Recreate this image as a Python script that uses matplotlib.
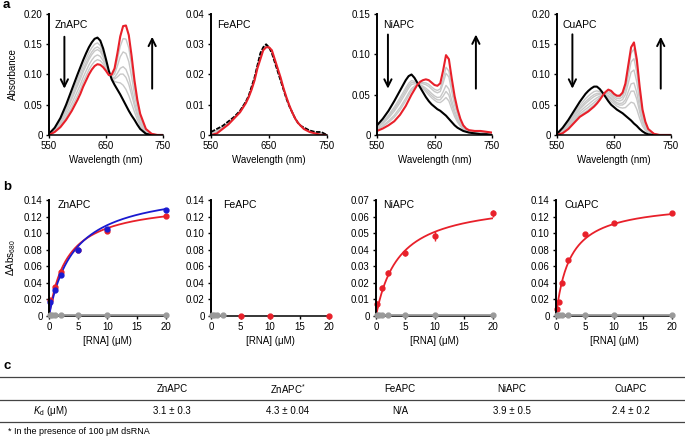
import numpy as np
import matplotlib
matplotlib.use('Agg')
import matplotlib.pyplot as plt
from matplotlib.lines import Line2D

plt.rcParams['font.family'] = ['Liberation Sans', 'DejaVu Sans']
plt.rcParams['mathtext.fontset'] = 'custom'
plt.rcParams['mathtext.rm'] = 'Liberation Sans'
plt.rcParams['mathtext.it'] = 'Liberation Sans:italic'

RED = '#e8202a'
BLUE = '#1a1ad0'
GREY = '#c8c8c8'
DOTGREY = '#9a9a9a'

# ---- panel a: spectra (nm, absorbance) ----
wl = [550, 560, 570, 580, 590, 600, 605, 610, 615, 620, 625, 630, 635, 640, 645, 650,
      655, 660, 665, 670, 675, 680, 685, 690, 695, 700, 705, 710, 720, 730, 740, 750]

zn_black = [.002, .012, .028, .050, .075, .100, .112, .124, .135, .145, .153, .159, .161, .156, .143, .125,
            .106, .092, .083, .075, .067, .058, .049, .040, .032, .025, .017, .010, .002, 0, 0, 0]
zn_red = [0, .005, .013, .025, .040, .058, .068, .080, .090, .100, .108, .114, .117, .116, .112, .106,
          .099, .100, .110, .135, .163, .180, .181, .165, .130, .090, .058, .035, .010, .002, 0, 0]
zn_steps = [0.2, 0.35, 0.45, 0.65, 0.83]

fe_black = [.001, .002, .003, .0045, .006, .008, .0095, .011, .013, .016, .019, .023, .027, .029, .030, .029,
            .027, .024, .021, .018, .015, .012, .0095, .0075, .0055, .004, .003, .0025, .0015, .001, .001, 0]
fe_red = [0, .0005, .002, .0035, .0055, .0075, .009, .0105, .0125, .015, .018, .022, .025, .028, .029, .029,
          .028, .025, .022, .019, .0155, .0125, .0098, .0075, .0055, .004, .003, .002, .001, .0005, 0, 0]
fe_steps = [0.3, 0.6]

ni_black = [.012, .020, .030, .042, .055, .068, .073, .075, .071, .065, .059, .053, .047, .042, .038, .035,
            .032, .030, .027, .024, .020, .016, .012, .009, .007, .005, .004, .003, .002, .001, .001, 0]
ni_red = [.005, .008, .012, .017, .025, .036, .043, .050, .056, .062, .066, .068, .069, .068, .065, .062,
          .061, .064, .080, .099, .094, .070, .048, .032, .020, .012, .008, .006, .005, .005, .004, .003]
ni_steps = [0.3, 0.4, 0.5, 0.7, 0.8]

cu_black = [.002, .012, .025, .040, .055, .068, .073, .077, .080, .080, .076, .070, .063, .056, .050, .046,
            .042, .039, .036, .032, .028, .024, .019, .015, .010, .006, .003, .001, 0, 0, 0, 0]
cu_red = [0, .003, .010, .020, .030, .036, .039, .043, .047, .052, .058, .065, .071, .075, .073, .068,
          .065, .065, .070, .085, .115, .145, .153, .125, .080, .042, .022, .010, .002, 0, 0, 0]
cu_steps = [0.25, 0.4, 0.5, 0.66, 0.8, 0.92]

# ---- panel b: titrations ([RNA] uM, dAbs680) ----
zn_conc = [0.25, 1, 2, 5, 10, 20]
zn_resp = [0.019, 0.035, 0.053, 0.080, 0.102, 0.121]
zn_ds_resp = [0.017, 0.031, 0.050, 0.080, 0.105, 0.128]
ni_conc = [0.25, 1, 2, 5, 10, 20]
ni_resp = [0.007, 0.017, 0.026, 0.038, 0.048, 0.062]
ni_err = [0.002, 0.002, 0.0015, 0.002, 0.003, 0.002]
cu_conc = [0.25, 0.5, 1, 2, 5, 10, 20]
cu_resp = [0.008, 0.017, 0.040, 0.068, 0.099, 0.112, 0.124]
fe_conc = [5, 10, 20]
fe_resp = [0, 0, 0]
ctrl_conc = [0.25, 0.5, 1, 2, 5, 10, 20]
fe_ctrl_conc = [0.25, 0.5, 1, 2]

# fitted binding curves (Kd from table, plateau)
kd = {'Zn': 3.1, 'Zn*': 4.3, 'Ni': 3.9, 'Cu': 2.4}
bmax = {'Zn': 0.139, 'Zn*': 0.157, 'Ni': 0.0705, 'Cu': 0.1378}

# ---- panel c table ----
col_names = ['ZnAPC', 'ZnAPC$^{*}$', 'FeAPC', 'NiAPC', 'CuAPC']
kd_text = ['3.1 ± 0.3', '4.3 ± 0.04', 'N/A', '3.9 ± 0.5', '2.4 ± 0.2']

W, H = 685, 436
fig = plt.figure(figsize=(6.85, 4.36), dpi=100)


def px_axes(left, right, top, bottom):
    return fig.add_axes([left / W, 1 - bottom / H, (right - left) / W, (bottom - top) / H])


def style(ax):
    ax.spines['top'].set_visible(False)
    ax.spines['right'].set_visible(False)
    ax.spines['left'].set_linewidth(1.4)
    ax.spines['bottom'].set_linewidth(1.1)
    ax.tick_params(direction='out', length=2.5, width=1, labelsize=7, pad=2)


def fmt(v):
    return '0' if v == 0 else f'{v:.2f}'


a_specs = [
    ('ZnAPC', zn_black, zn_red, zn_steps, 0.20, 0.05, (49, 163), (577, 0.167, 0.072), (731, 0.072, 0.167)),
    ('FeAPC', fe_black, fe_red, fe_steps, 0.04, 0.01, (211, 327), None, None),
    ('NiAPC', ni_black, ni_red, ni_steps, 0.15, 0.05, (377, 492), (569, 0.128, 0.054), (722, 0.054, 0.128)),
    ('CuAPC', cu_black, cu_red, cu_steps, 0.20, 0.05, (557, 671), (577, 0.171, 0.072), (732, 0.072, 0.167)),
]

wl_arr = np.array(wl)
for i, (name, blk, red, steps, ytop, ystep, (l, r), down, up) in enumerate(a_specs):
    ax = px_axes(l, r, 14, 135)
    style(ax)
    b = np.array(blk)
    rd = np.array(red)
    for f in steps:
        ax.plot(wl_arr, b + f * (rd - b), color=GREY, lw=1.0)
    if name == 'FeAPC':
        ax.plot(wl_arr, b, color='k', lw=1.3, ls=(0, (2.5, 0.8)))
    else:
        ax.plot(wl_arr, b, color='k', lw=1.5)
    ax.plot(wl_arr, rd, color=RED, lw=1.5)
    ax.set_xlim(550, 750)
    ax.set_ylim(0, ytop)
    ax.set_xticks([550, 650, 750])
    yt = np.round(np.arange(0, ytop + ystep / 2, ystep), 3)
    ax.set_yticks(yt)
    ax.set_yticklabels([fmt(v) for v in yt])
    ax.set_xlabel('Wavelength (nm)', fontsize=7, labelpad=3)
    ax.text(0.05, 0.91, name, transform=ax.transAxes, fontsize=7.5, va='center')
    for arr in (down, up):
        if arr is not None:
            x0, ys, ye = arr
            ax.annotate('', xy=(x0, ye), xytext=(x0, ys),
                        arrowprops=dict(arrowstyle='->', lw=1.4, color='k', mutation_scale=13))
    if i == 0:
        ax.set_ylabel('Absorbance', fontsize=7, labelpad=4)

xfit = np.linspace(0, 20, 200)
b_pos = [(49, 166), (211, 329), (376, 493), (556, 672)]
b_names = ['ZnAPC', 'FeAPC', 'NiAPC', 'CuAPC']
b_label_x = [0.07, 0.1, 0.06, 0.07]
for i, (l, r) in enumerate(b_pos):
    ax = px_axes(l, r, 200, 316)
    style(ax)
    ax.set_xlim(0, 20)
    if b_names[i] == 'NiAPC':
        ax.set_ylim(0, 0.07)
        yt = np.round(np.arange(0, 0.0705, 0.01), 3)
    else:
        ax.set_ylim(0, 0.14)
        yt = np.round(np.arange(0, 0.141, 0.02), 3)
    ax.set_yticks(yt)
    ax.set_yticklabels([fmt(v) for v in yt])
    ax.set_xticks([0, 5, 10, 15, 20])
    ax.set_xlabel('[RNA] (μM)', fontsize=7, labelpad=3)
    ax.text(b_label_x[i], 0.955, b_names[i], transform=ax.transAxes, fontsize=7.5, va='center')

    ctrl = fe_ctrl_conc if b_names[i] == 'FeAPC' else ctrl_conc
    if b_names[i] != 'FeAPC':
        ax.plot(ctrl, [0.0008] * len(ctrl), color=DOTGREY, lw=1.3, clip_on=False, zorder=4)

    if b_names[i] == 'ZnAPC':
        ax.plot(xfit, bmax['Zn'] * xfit / (kd['Zn'] + xfit), color=RED, lw=1.3)
        ax.errorbar(zn_conc, zn_resp, yerr=0.002, fmt='o', color=RED, ms=3.5, elinewidth=1,
                    capsize=0, clip_on=False)
        ax.plot(xfit, bmax['Zn*'] * xfit / (kd['Zn*'] + xfit), color=BLUE, lw=1.3)
        ax.errorbar(zn_conc, zn_ds_resp, yerr=0.002, fmt='o', color=BLUE, ms=3.5, elinewidth=1,
                    capsize=0, clip_on=False)
        ax.set_ylabel('ΔAbs$_{680}$', fontsize=7, labelpad=4)
    elif b_names[i] == 'FeAPC':
        ax.plot(fe_conc, fe_resp, 'o', color=RED, ms=3.5, clip_on=False, zorder=5)
    elif b_names[i] == 'NiAPC':
        ax.plot(xfit, bmax['Ni'] * xfit / (kd['Ni'] + xfit), color=RED, lw=1.3)
        ax.errorbar(ni_conc, ni_resp, yerr=ni_err, fmt='o', color=RED, ms=3.5, elinewidth=1,
                    capsize=0, clip_on=False)
    else:
        ax.plot(xfit, bmax['Cu'] * xfit / (kd['Cu'] + xfit), color=RED, lw=1.3)
        ax.errorbar(cu_conc, cu_resp, yerr=0.0015, fmt='o', color=RED, ms=3.5, elinewidth=1,
                    capsize=0, clip_on=False)
    ax.plot(ctrl, [0.0008] * len(ctrl), 'o', color=DOTGREY, ms=3.5, clip_on=False, zorder=6)

# panel letters
fig.text(3 / W, 1 - 5 / H, 'a', fontsize=9.5, fontweight='bold', va='center')
fig.text(3 / W, 1 - 187 / H, 'b', fontsize=9.5, fontweight='bold', va='center')
fig.text(3 / W, 1 - 366 / H, 'c', fontsize=9.5, fontweight='bold', va='center')

# table
for y in (377, 400, 422):
    fig.add_artist(Line2D([0, 1], [1 - y / H, 1 - y / H], color='#444444', lw=0.9))
col_x = [172, 288, 400, 512, 631]
for x, name, val in zip(col_x, col_names, kd_text):
    fig.text(x / W, 1 - 389 / H, name, fontsize=7, ha='center', va='center')
    fig.text(x / W, 1 - 411 / H, val, fontsize=7, ha='center', va='center')
fig.text(50 / W, 1 - 411 / H, '$K_{\\mathrm{d}}$ (μM)', fontsize=7, ha='center', va='center')
fig.text(8 / W, 1 - 431 / H, '* In the presence of 100 μM dsRNA', fontsize=6.5, ha='left', va='center')

fig.savefig('out.png', dpi=100)
